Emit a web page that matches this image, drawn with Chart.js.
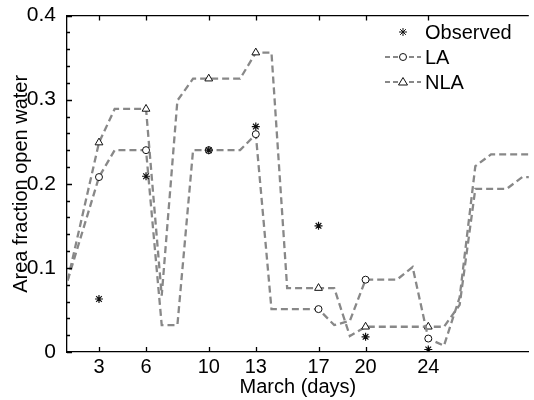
<!DOCTYPE html>
<html>
<head>
<meta charset="utf-8">
<script src="https://cdn.jsdelivr.net/npm/chart.js@4/dist/chart.umd.min.js"></script>
<style>
  html, body { margin: 0; padding: 0; background: #fff; }
  #wrap { width: 534px; height: 400px; }
</style>
</head>
<body>
<div id="wrap"><canvas id="chart"></canvas></div>
<script>
// valores
const dayTicks = [3, 6, 10, 13, 17, 20, 24];
const yTicks = [0, 0.1, 0.2, 0.3, 0.4];
const markerDays = [3, 6, 10, 13, 17, 20, 24];
const obsValues = [0.063, 0.209, 0.240, 0.268, 0.150, 0.018, 0.003];

const laDays = [1, 3, 4, 6, 7, 8, 9, 10, 12, 13, 14, 17, 18, 19, 20, 22, 23, 24, 25, 26, 27, 28, 31];
const laValues = [0.085, 0.208, 0.240, 0.240, 0.032, 0.032, 0.240, 0.240, 0.240, 0.259, 0.051, 0.051,
  0.032, 0.037, 0.086, 0.086, 0.101, 0.016, 0.0075, 0.065, 0.221, 0.235, 0.235];

const nlaDays = [1, 3, 4, 6, 7, 8, 9, 10, 12, 13, 14, 15, 17, 18, 19, 20, 24, 25, 26, 27, 29, 30, 31];
const nlaValues = [0.085, 0.249, 0.289, 0.289, 0.067, 0.299, 0.325, 0.325, 0.325, 0.356, 0.356, 0.076,
  0.076, 0.076, 0.019, 0.030, 0.030, 0.030, 0.056, 0.194, 0.194, 0.208, 0.208];

const GRAY = '#888888';
const MARK = '#111';
const FONT = "'Liberation Sans', Arial, sans-serif";

const pts = (xs, ys) => xs.map((d, i) => ({ x: d, y: ys[i] }));
const markR = (r) => (c) => (c.raw && markerDays.includes(c.raw.x) ? r : 0);

function drawMarker(ctx, style, cx, cy) {
  ctx.save();
  ctx.setLineDash([]);
  ctx.strokeStyle = MARK;
  ctx.fillStyle = '#fff';
  ctx.lineWidth = 1;
  ctx.beginPath();
  if (style === 'circle') {
    ctx.arc(cx, cy, 3.5, 0, Math.PI * 2);
    ctx.fill(); ctx.stroke();
  } else if (style === 'triangle') {
    ctx.moveTo(cx, cy - 4.5);
    ctx.lineTo(cx + 4.5, cy + 3);
    ctx.lineTo(cx - 4.5, cy + 3);
    ctx.closePath();
    ctx.fill(); ctx.stroke();
  } else {
    for (let k = 0; k < 4; k++) {
      const a = k * Math.PI / 4;
      ctx.moveTo(cx - 4 * Math.cos(a), cy - 4 * Math.sin(a));
      ctx.lineTo(cx + 4 * Math.cos(a), cy + 4 * Math.sin(a));
    }
    ctx.stroke();
  }
  ctx.restore();
}

// moldura estilo matlab + legenda
const frame = {
  id: 'frame',
  afterDraw(chart) {
    const { ctx, chartArea: a, scales: { x, y } } = chart;
    ctx.save();
    ctx.strokeStyle = '#000';
    ctx.lineWidth = 1.3;
    ctx.beginPath();
    ctx.moveTo(a.left, a.top); ctx.lineTo(a.right, a.top);
    dayTicks.forEach((d) => {
      const px = Math.round(x.getPixelForValue(d)) + 0.5;
      ctx.moveTo(px, a.bottom); ctx.lineTo(px, a.bottom - 5);
      ctx.moveTo(px, a.top); ctx.lineTo(px, a.top + 5);
    });
    for (let i = 0; i <= 20; i++) {
      const py = Math.round(y.getPixelForValue(i * 0.02)) + 0.5;
      ctx.moveTo(a.left, py); ctx.lineTo(a.left + (i % 5 === 0 ? 5 : 3), py);
    }
    ctx.stroke();

    // legenda
    const rows = [
      { label: 'Observed', style: 'star', line: false },
      { label: 'LA', style: 'circle', line: true },
      { label: 'NLA', style: 'triangle', line: true },
    ];
    ctx.font = '20px ' + FONT;
    ctx.fillStyle = '#000';
    ctx.textBaseline = 'middle';
    rows.forEach((r, i) => {
      const cy = 32 + i * 25;
      if (r.line) {
        ctx.strokeStyle = GRAY;
        ctx.lineWidth = 2;
        ctx.setLineDash([5, 3]);
        ctx.beginPath();
        ctx.moveTo(385, cy); ctx.lineTo(421, cy);
        ctx.stroke();
        ctx.setLineDash([]);
      }
      drawMarker(ctx, r.style, 403, cy);
      ctx.fillText(r.label, 425, cy + 1);
    });
    ctx.restore();
  },
};

const lineSet = (label, xs, ys, style) => ({
  label,
  data: pts(xs, ys),
  borderColor: GRAY,
  borderWidth: 2.3,
  borderDash: [7, 4],
  backgroundColor: '#fff',
  pointStyle: style,
  pointRadius: markR(style === 'triangle' ? 4.5 : 3.5),
  pointHoverRadius: 0,
  pointBorderColor: MARK,
  pointBackgroundColor: '#fff',
  pointBorderWidth: 1,
  tension: 0,
});

Chart.defaults.font.family = FONT;
Chart.defaults.font.size = 20;
Chart.defaults.color = '#000';

new Chart(document.getElementById('chart'), {
  type: 'line',
  data: {
    datasets: [
      {
        label: 'Observed',
        data: pts(markerDays, obsValues),
        showLine: false,
        pointStyle: 'star',
        pointRadius: 4,
        pointBorderColor: MARK,
        pointBorderWidth: 1.2,
      },
      lineSet('LA', laDays, laValues, 'circle'),
      lineSet('NLA', nlaDays, nlaValues, 'triangle'),
    ],
  },
  options: {
    responsive: true,
    maintainAspectRatio: false,
    animation: false,
    events: [],
    layout: { padding: { top: 14, left: 0, right: 0, bottom: 0 } },
    plugins: { legend: { display: false }, tooltip: { enabled: false } },
    scales: {
      x: {
        type: 'linear',
        min: 0.96,
        max: 30.41,
        afterFit: (s) => { s.height = 48; },
        afterBuildTicks: (s) => { s.ticks = dayTicks.map((v) => ({ value: v })); },
        grid: { display: false },
        border: { display: true, color: '#000', width: 1.3 },
        ticks: { padding: -5, maxRotation: 0, autoSkip: false },
        title: { display: true, text: 'March (days)', padding: { top: 0, bottom: 1 } },
      },
      y: {
        min: 0,
        max: 0.4,
        afterFit: (s) => { s.width = 67; },
        afterBuildTicks: (s) => { s.ticks = yTicks.map((v) => ({ value: v })); },
        grid: { display: false },
        border: { display: true, color: '#000', width: 1.3 },
        ticks: { padding: 3, font: { size: 21 }, callback: (v) => String(v) },
        title: { display: true, text: 'Area fraction open water', padding: { top: 9, bottom: 0 } },
      },
    },
  },
  plugins: [frame],
});
</script>
</body>
</html>
